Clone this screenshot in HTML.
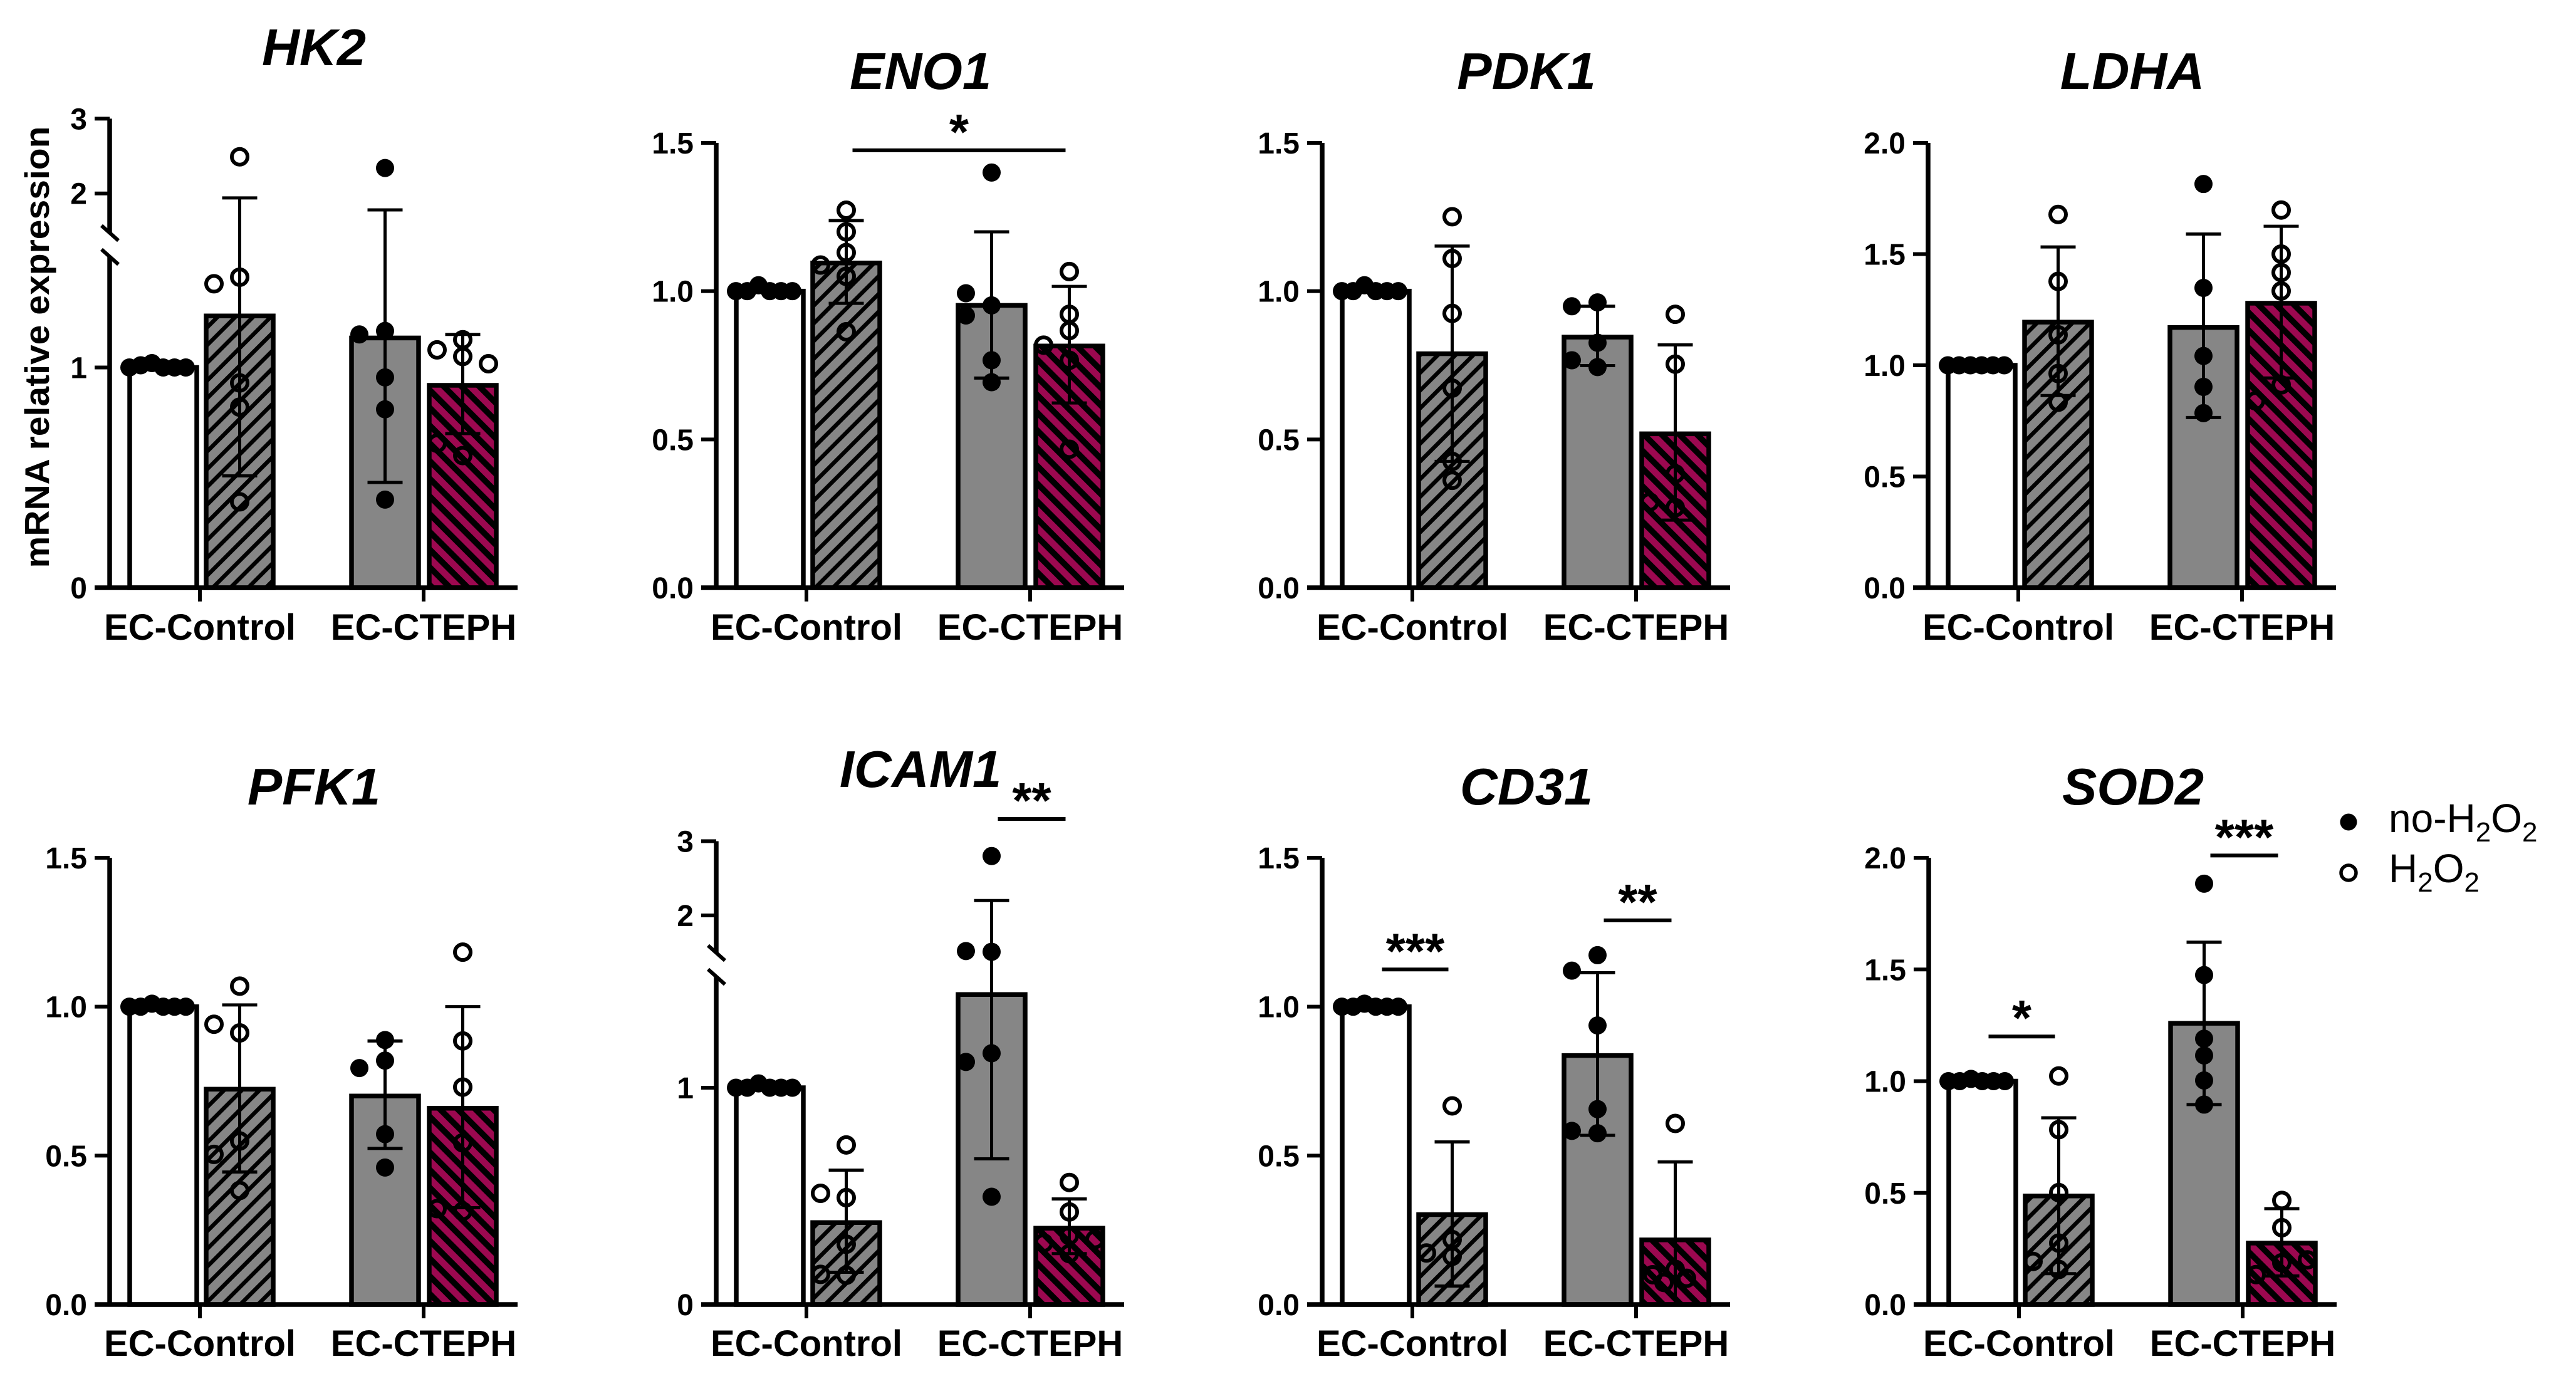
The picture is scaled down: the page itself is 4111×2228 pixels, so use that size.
<!DOCTYPE html>
<html><head><meta charset="utf-8"><title>mRNA relative expression panels</title>
<style>html,body{margin:0;padding:0;background:#fff}svg{display:block}</style></head>
<body>
<svg id="fig" xmlns="http://www.w3.org/2000/svg" width="4111" height="2228" viewBox="0 0 4111 2228" font-family="'Liberation Sans', Arial, sans-serif">
<defs>
<pattern id="hatchGray" patternUnits="userSpaceOnUse" width="20" height="20" patternTransform="rotate(45)">
<rect width="20" height="20" fill="#868686"/><rect width="6.5" height="20" fill="#000"/></pattern>
<pattern id="hatchMag" patternUnits="userSpaceOnUse" width="20" height="20" patternTransform="rotate(-45)">
<rect width="20" height="20" fill="#9c0850"/><rect width="9.5" height="20" fill="#000"/></pattern>
</defs>
<text transform="translate(78,554) rotate(-90)" text-anchor="middle" font-size="55" font-weight="bold" textLength="705" lengthAdjust="spacingAndGlyphs">mRNA relative expression</text>
<g>
<circle cx="3748" cy="1312" r="13.5" fill="#000"/>
<text x="3812" y="1328" font-size="64">no-H<tspan font-size="44" dy="15">2</tspan><tspan dy="-15">O</tspan><tspan font-size="44" dy="15">2</tspan></text>
<circle cx="3748" cy="1393" r="12" fill="none" stroke="#000" stroke-width="5.5"/>
<text x="3812" y="1408" font-size="64">H<tspan font-size="44" dy="15">2</tspan><tspan dy="-15">O</tspan><tspan font-size="44" dy="15">2</tspan></text>
</g>
</svg>
<script>
// ---- data (bar order: EC-Control no-H2O2, EC-Control H2O2, EC-CTEPH no-H2O2, EC-CTEPH H2O2) ----
const categories = ['EC-Control', 'EC-CTEPH'];
const genes = ['HK2', 'ENO1', 'PDK1', 'LDHA', 'PFK1', 'ICAM1', 'CD31', 'SOD2'];

const meansHK2 = [1.0, 1.234, 1.134, 0.919];
const errHiHK2 = [1.0, 1.94, 1.78, 1.15];
const errLoHK2 = [1.0, 0.508, 0.478, 0.70];
const ptsHK2 = [[1.0, 1.02, 1.0, 1.01, 1.0, 1.0], [1.41, 2.49, 1.38, 0.93, 0.82, 0.39], [1.166, 2.34, 1.15, 0.955, 0.81, 0.40], [1.126, 1.08, 1.05, 1.017, 0.60, 0.656]];

const meansENO1 = [1.0, 1.095, 0.952, 0.815];
const errHiENO1 = [1.0, 1.238, 1.20, 1.016];
const errLoENO1 = [1.0, 0.959, 0.707, 0.623];
const ptsENO1 = [[1.0, 1.02, 1.0, 1.0, 1.0, 1.0], [1.13, 1.273, 1.20, 1.05, 1.088, 0.863], [0.952, 1.40, 0.993, 0.918, 0.767, 0.693], [0.867, 1.066, 0.922, 0.818, 0.767, 0.467]];

const meansPDK1 = [1.0, 0.789, 0.845, 0.519];
const errHiPDK1 = [1.0, 1.152, 0.949, 0.819];
const errLoPDK1 = [1.0, 0.426, 0.749, 0.228];
const ptsPDK1 = [[1.0, 1.02, 1.0, 1.0, 1.0, 1.0], [1.251, 1.11, 0.925, 0.673, 0.426, 0.362], [0.962, 0.949, 0.826, 0.744, 0.767], [0.922, 0.754, 0.384, 0.27, 0.289]];

const meansLDHA = [1.0, 1.194, 1.17, 1.279];
const errHiLDHA = [1.0, 1.532, 1.59, 1.625];
const errLoLDHA = [1.0, 0.864, 0.765, 0.943];
const ptsLDHA = [[1.0, 1.0, 1.0, 1.0, 1.0, 1.0], [1.678, 1.377, 1.137, 0.963, 0.834], [1.815, 1.348, 1.042, 0.903, 0.785], [1.698, 1.5, 1.417, 1.334, 0.912, 0.84]];

const meansPFK1 = [1.0, 0.723, 0.70, 0.659];
const errHiPFK1 = [1.0, 1.006, 0.885, 1.0];
const errLoPFK1 = [1.0, 0.445, 0.524, 0.325];
const ptsPFK1 = [[1.0, 1.01, 1.0, 1.0, 1.0, 1.0], [0.912, 1.069, 0.941, 0.549, 0.504, 0.383], [0.888, 0.819, 0.794, 0.572, 0.46], [1.183, 0.885, 0.73, 0.543, 0.313, 0.322]];

const meansICAM1 = [1.0, 0.378, 1.43, 0.352];
const errHiICAM1 = [1.0, 0.62, 2.2, 0.487];
const errLoICAM1 = [1.0, 0.149, 0.672, 0.235];
const ptsICAM1 = [[1.0, 1.02, 1.0, 1.0, 1.0, 1.0], [0.736, 0.493, 0.513, 0.278, 0.135, 0.139], [2.8, 1.51, 1.52, 1.159, 1.119, 0.497], [0.563, 0.427, 0.318, 0.235, 0.284, 0.30]];

const meansCD31 = [1.0, 0.302, 0.836, 0.217];
const errHiCD31 = [1.0, 0.546, 1.114, 0.479];
const errLoCD31 = [1.0, 0.062, 0.568, 0.0];
const ptsCD31 = [[1.0, 1.01, 1.0, 1.0, 1.0, 1.0], [0.667, 0.218, 0.162, 0.173], [1.173, 1.121, 0.937, 0.656, 0.575, 0.583], [0.608, 0.118, 0.074, 0.088, 0.10]];

const meansSOD2 = [1.0, 0.486, 1.259, 0.275];
const errHiSOD2 = [1.0, 0.836, 1.622, 0.429];
const errLoSOD2 = [1.0, 0.138, 0.895, 0.128];
const ptsSOD2 = [[1.0, 1.01, 1.0, 1.0, 1.0, 1.0], [1.023, 0.783, 0.501, 0.275, 0.157, 0.193], [1.884, 1.475, 1.19, 1.115, 1.003, 0.895], [0.466, 0.344, 0.187, 0.134, 0.20]];

const ticks15 = ['0.0', '0.5', '1.0', '1.5'];
const ticks20 = ['0.0', '0.5', '1.0', '1.5', '2.0'];
const ticksBroken = ['0', '1', '2', '3'];

// significance annotations: [fromBar, toBar, yValue, label]
const sigENO1 = [[1, 3, 1.475, '*']];
const sigICAM1 = [[2, 3, 3.3, '**']];
const sigCD31 = [[0, 1, 1.125, '***'], [2, 3, 1.29, '**']];
const sigSOD2 = [[0, 1, 1.20, '*'], [2, 3, 2.01, '***']];

// ---- layout ----
const NS = 'http://www.w3.org/2000/svg';
const svg = document.getElementById('fig');
const BAR_CENTERS = [85.5, 207.5, 439.5, 563.5];
const BAR_W = 107;
const CAT_TICKS = [144, 501];
const FILLS = ['#ffffff', 'url(#hatchGray)', '#868686', 'url(#hatchMag)'];

function mk(tag, attrs, parent) {
  const el = document.createElementNS(NS, tag);
  for (const k in attrs) el.setAttribute(k, attrs[k]);
  (parent || svg).appendChild(el);
  return el;
}
function linearY(zero, top, max) { return v => zero - v * (zero - top) / max; }
function brokenY(zero, y1, y2, y3) {
  const lo = zero - y1, hi = y2 - y3;
  return v => v <= 1.5 ? zero - v * lo : y2 - (v - 2) * hi;
}

const panels = [
  {gene: 'HK2', ax: 175, zero: 938, titleY: 104, labY: 1021, y: brokenY(938, 586.5, 308.7, 189.4), tv: [0, 1, 2, 3], tl: ticksBroken, brk: [372, 410], top: 189.4, m: meansHK2, hi: errHiHK2, lo: errLoHK2, p: ptsHK2, sig: []},
  {gene: 'ENO1', ax: 1143, zero: 938, titleY: 142, labY: 1021, y: linearY(938, 228, 1.5), tv: [0, 0.5, 1, 1.5], tl: ticks15, top: 228, m: meansENO1, hi: errHiENO1, lo: errLoENO1, p: ptsENO1, sig: sigENO1},
  {gene: 'PDK1', ax: 2110, zero: 938, titleY: 142, labY: 1021, y: linearY(938, 228, 1.5), tv: [0, 0.5, 1, 1.5], tl: ticks15, top: 228, m: meansPDK1, hi: errHiPDK1, lo: errLoPDK1, p: ptsPDK1, sig: []},
  {gene: 'LDHA', ax: 3077, zero: 938, titleY: 142, labY: 1021, y: linearY(938, 228, 2.0), tv: [0, 0.5, 1, 1.5, 2], tl: ticks20, top: 228, m: meansLDHA, hi: errHiLDHA, lo: errLoLDHA, p: ptsLDHA, sig: []},
  {gene: 'PFK1', ax: 175, zero: 2082, titleY: 1284, labY: 2164, y: linearY(2082, 1369, 1.5), tv: [0, 0.5, 1, 1.5], tl: ticks15, top: 1369, m: meansPFK1, hi: errHiPFK1, lo: errLoPFK1, p: ptsPFK1, sig: []},
  {gene: 'ICAM1', ax: 1143, zero: 2082, titleY: 1256, labY: 2164, y: brokenY(2082, 1736, 1461, 1342.5), tv: [0, 1, 2, 3], tl: ticksBroken, brk: [1521, 1559], top: 1342.5, m: meansICAM1, hi: errHiICAM1, lo: errLoICAM1, p: ptsICAM1, sig: sigICAM1},
  {gene: 'CD31', ax: 2110, zero: 2082, titleY: 1284, labY: 2164, y: linearY(2082, 1369, 1.5), tv: [0, 0.5, 1, 1.5], tl: ticks15, top: 1369, m: meansCD31, hi: errHiCD31, lo: errLoCD31, p: ptsCD31, sig: sigCD31},
  {gene: 'SOD2', ax: 3078, zero: 2082, titleY: 1284, labY: 2164, y: linearY(2082, 1369, 2.0), tv: [0, 0.5, 1, 1.5, 2], tl: ticks20, top: 1369, m: meansSOD2, hi: errHiSOD2, lo: errLoSOD2, p: ptsSOD2, sig: sigSOD2}
];

function swarm(ys) {
  function place(step) {
    const placed = [];
    ys.forEach(y => {
      const cands = [0];
      for (let k = 1; k < 8; k++) { cands.push(-k * step, k * step); }
      for (const dx of cands) {
        if (placed.every(q => Math.abs(q.y - y) >= 26 || Math.abs(q.dx - dx) >= step - 1)) { placed.push({dx, y}); break; }
      }
    });
    return placed;
  }
  let res = place(41);
  if (Math.max(...res.map(r => Math.abs(r.dx))) > 50) res = place(18);
  return res.map(r => r.dx);
}

panels.forEach((P, pi) => {
  const g = mk('g', {});
  
  
  const X = rx => P.ax + rx;
  const t = mk('text', {x: X(326), y: P.titleY, 'text-anchor': 'middle', 'font-size': 83, 'font-weight': 'bold', 'font-style': 'italic'}, g);
  
  
  t.textContent = P.gene;
  P.m.forEach((v, i) => {
    const yT = P.y(v);
    const r = mk('rect', {x: X(BAR_CENTERS[i] - BAR_W / 2), y: yT, width: BAR_W, height: P.zero - yT, fill: FILLS[i], stroke: '#000', 'stroke-width': 7.5}, g);
    
    
  });
  P.m.forEach((v, i) => {
    if (P.hi[i] === v && P.lo[i] === v) return;
    const cx = X(BAR_CENTERS[i]);
    const eg = mk('g', {stroke: '#000', 'stroke-width': 5}, g);
    
    
    const yh = P.y(P.hi[i]), yl = P.y(P.lo[i]);
    mk('line', {x1: cx, x2: cx, y1: yh, y2: yl}, eg);
    mk('line', {x1: cx - 28, x2: cx + 28, y1: yh, y2: yh}, eg);
    if (P.lo[i] > 0) mk('line', {x1: cx - 28, x2: cx + 28, y1: yl, y2: yl}, eg);
  });
  P.p.forEach((arr, i) => {
    const ys = arr.map(v => P.y(v));
    const dxs = swarm(ys);
    arr.forEach((v, j) => {
      const open = (i % 2 === 1);
      const c = mk('circle', open ? {cx: X(BAR_CENTERS[i]) + dxs[j], cy: ys[j], r: 12.5, fill: 'none', stroke: '#000', 'stroke-width': 6} : {cx: X(BAR_CENTERS[i]) + dxs[j], cy: ys[j], r: 14.5, fill: '#000'}, g);
      
      
    });
  });
  const axg = mk('g', {stroke: '#000', 'stroke-width': 7.5, fill: 'none'}, g);
  
  
  if (P.brk) {
    mk('line', {x1: P.ax, x2: P.ax, y1: P.top, y2: P.brk[0]}, axg);
    mk('line', {x1: P.ax, x2: P.ax, y1: P.brk[1], y2: P.zero + 3}, axg);
    P.brk.forEach(b => mk('line', {x1: P.ax - 13, y1: b - 12, x2: P.ax + 14, y2: b + 12, 'stroke-width': 6}, axg));
  } else {
    mk('line', {x1: P.ax, x2: P.ax, y1: P.top, y2: P.zero + 3}, axg);
  }
  mk('line', {x1: P.ax - 24, x2: X(651), y1: P.zero, y2: P.zero}, axg);
  P.tv.forEach((v, k) => {
    const yy = P.y(v);
    mk('line', {x1: P.ax - 24, x2: P.ax, y1: yy, y2: yy, 'stroke-width': 6}, axg);
    const tl = mk('text', {x: P.ax - 36, y: yy + 17, 'text-anchor': 'end', 'font-size': 48, 'font-weight': 'bold', stroke: 'none', fill: '#000'}, g);
    
    
    tl.textContent = P.tl[k];
  });
  CAT_TICKS.forEach((cx, k) => {
    mk('line', {x1: X(cx), x2: X(cx), y1: P.zero, y2: P.zero + 22, 'stroke-width': 6}, axg);
    const lb = mk('text', {x: X(cx), y: P.labY, 'text-anchor': 'middle', 'font-size': 58, 'font-weight': 'bold'}, g);
    
    
    lb.textContent = categories[k];
  });
  P.sig.forEach(s => {
    const yy = P.y(s[2]);
    const x1 = X(BAR_CENTERS[s[0]]) + 10, x2 = X(BAR_CENTERS[s[1]]) - 6;
    const sl = mk('line', {x1: x1, x2: x2, y1: yy, y2: yy, stroke: '#000', 'stroke-width': 6}, g);
    
    
    const st = mk('text', {x: (x1 + x2) / 2, y: yy - 2, 'text-anchor': 'middle', 'font-size': 80, 'font-weight': 'bold'}, g);
    
    
    st.textContent = s[3];
  });
});
</script>
</body></html>
